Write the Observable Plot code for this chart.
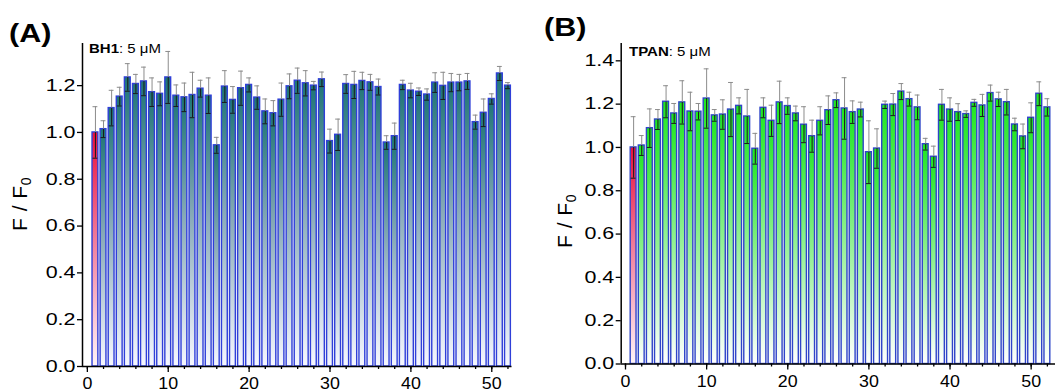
<!DOCTYPE html>
<html>
<head>
<meta charset="utf-8">
<script src="https://cdn.jsdelivr.net/npm/d3@7"></script>
<script src="https://cdn.jsdelivr.net/npm/@observablehq/plot@0.6"></script>
<style>
  body { margin: 0; background: #fff; }
  #wrap { position: relative; width: 1055px; height: 392px; overflow: hidden; font-family: "Liberation Sans", Arial, sans-serif; color: #000; }
  .panel { position: absolute; top: 0; }
  .tag { position: absolute; font-weight: bold; font-size: 25px; line-height: 1; transform: scaleX(1.22); transform-origin: 0 0; }
  .note { position: absolute; font-size: 12.5px; line-height: 1; white-space: nowrap; transform: scaleX(1.2); transform-origin: 0 0; }
  .ylab { position: absolute; font-size: 21px; white-space: nowrap; transform: translate(-50%, -50%) rotate(-90deg); line-height: 1; letter-spacing: 0.5px; }
  .ylab sub { font-size: 14px; vertical-align: -4px; }
</style>
</head>
<body>
<div id="wrap">
  <div class="tag" style="left:9px; top:21px;">(A)</div>
  <div class="tag" style="left:544px; top:15px;">(B)</div>
  <div class="note" style="left:89px; top:43px;"><b>BH1</b>: 5 μM</div>
  <div class="note" style="left:629px; top:46px;"><b>TPAN</b>: 5 μM</div>
  <div class="ylab" style="left:21px; top:204px;">F / F<sub>0</sub></div>
  <div class="ylab" style="left:566px; top:221px;">F / F<sub>0</sub></div>
</div>
<script>
// ---- data ----
const positions = [1,2,3,4,5,6,7,8,9,10,11,12,13,14,15,16,17,18,19,20,21,22,23,24,25,26,
  27,28,29,30,31,32,33,34,35,36,37,38,39,40,41,42,43,44,45,46,47,48,49,50,51,52];

const valuesA = [1.000,1.014,1.104,1.153,1.235,1.207,1.218,1.172,1.165,1.235,1.157,1.150,1.160,
  1.187,1.157,0.945,1.196,1.139,1.189,1.203,1.149,1.090,1.082,1.140,1.197,1.221,1.210,1.200,
  1.227,0.963,0.990,1.207,1.203,1.220,1.214,1.194,0.957,0.984,1.203,1.179,1.174,1.162,1.213,
  1.199,1.213,1.213,1.218,1.044,1.084,1.143,1.252,1.200];
const errorsA = [0.110,0.036,0.076,0.040,0.059,0.041,0.061,0.061,0.051,0.111,0.046,0.061,0.097,
  0.036,0.076,0.034,0.068,0.057,0.073,0.030,0.050,0.053,0.054,0.071,0.053,0.054,0.054,0.018,
  0.031,0.051,0.067,0.040,0.058,0.037,0.034,0.034,0.029,0.056,0.020,0.031,0.016,0.024,0.042,
  0.058,0.039,0.035,0.034,0.030,0.059,0.022,0.030,0.013];

const valuesB = [1.000,1.009,1.089,1.129,1.211,1.157,1.208,1.166,1.165,1.226,1.148,1.152,1.175,
  1.192,1.143,0.994,1.183,1.123,1.208,1.191,1.157,1.105,1.052,1.123,1.172,1.218,1.180,1.163,
  1.175,0.978,0.995,1.197,1.198,1.258,1.223,1.185,1.015,0.957,1.197,1.175,1.163,1.154,1.206,
  1.194,1.251,1.222,1.209,1.106,1.051,1.137,1.248,1.185];
const errorsB = [0.142,0.046,0.089,0.046,0.074,0.046,0.100,0.089,0.038,0.137,0.027,0.068,0.125,
  0.037,0.125,0.071,0.046,0.072,0.098,0.038,0.034,0.083,0.074,0.065,0.066,0.034,0.142,0.052,
  0.034,0.145,0.091,0.017,0.051,0.037,0.032,0.057,0.027,0.049,0.071,0.054,0.039,0.015,0.016,
  0.051,0.037,0.033,0.059,0.029,0.057,0.069,0.055,0.040];

const controlPosition = 1;
const xMajorTicks = [0,10,20,30,40,50];
const xMinorTicks = [0,2,4,6,8,10,12,14,16,18,20,22,24,26,28,30,32,34,36,38,40,42,44,46,48,50,52];
const yTicksA = [0,0.2,0.4,0.6,0.8,1.0,1.2];
const yTicksB = [0,0.2,0.4,0.6,0.8,1.0,1.2,1.4];

// ---- drawing ----
const NS = "http://www.w3.org/2000/svg";
function addDefs(svg, html) {
  const defs = document.createElementNS(NS, "defs");
  defs.innerHTML = html;
  svg.insertBefore(defs, svg.firstChild);
}
function stretchText(svg, selector, s) {
  svg.querySelectorAll(selector).forEach(t => {
    let tx = 0, ty = 0;
    const xa = t.getAttribute("x"), ya = t.getAttribute("y");
    if (xa !== null && xa.trim() !== "" && !isNaN(+xa)) { tx = +xa; t.removeAttribute("x"); }
    if (ya !== null && ya.trim() !== "" && !isNaN(+ya)) { ty = +ya; t.removeAttribute("y"); }
    const tr = t.getAttribute("transform") || "";
    t.setAttribute("transform", `${tr} translate(${tx},${ty}) scale(${s},1)`.trim());
  });
}

function panel(opts) {
  const data = positions.map((n, i) => ({n, v: opts.values[i], e: opts.errors[i]}));
  const ctrl = data.filter(d => d.n === controlPosition);
  const rest = data.filter(d => d.n !== controlPosition);
  const hw = 0.36, cw = 0.3;
  const barOpts = (fill) => ({
    x1: d => d.n - hw, x2: d => d.n + hw, y1: () => 0, y2: "v",
    fill, stroke: opts.barStroke, strokeWidth: 1.4
  });
  const xMin = opts.xDomain[0];
  const svg = Plot.plot({
    width: opts.width, height: 392,
    marginLeft: opts.marginLeft, marginRight: opts.marginRight,
    marginTop: opts.marginTop, marginBottom: opts.marginBottom,
    x: {domain: opts.xDomain},
    y: {domain: opts.yDomain},
    style: {fontFamily: "'Liberation Sans', Arial, sans-serif", fontSize: "16.5px", color: "#000", background: "transparent"},
    marks: [
      Plot.rect(rest, barOpts(`url(#${opts.id}-main)`)),
      Plot.rect(ctrl, barOpts(`url(#${opts.id}-ctrl)`)),
      Plot.ruleX(data, {x: "n", y1: d => d.v - d.e, y2: "v", stroke: "#1a1a1a", strokeWidth: 1}),
      Plot.ruleX(data, {x: "n", y1: "v", y2: d => d.v + d.e, stroke: "#8c8c8c", strokeWidth: 1}),
      Plot.ruleY(data, {y: d => d.v + d.e, x1: d => d.n - cw, x2: d => d.n + cw, stroke: "#8c8c8c", strokeWidth: 1}),
      Plot.ruleY(data, {y: d => d.v - d.e, x1: d => d.n - cw, x2: d => d.n + cw, stroke: "#1a1a1a", strokeWidth: 1}),
      Plot.axisY({ticks: opts.yTicks, tickSize: 5, tickPadding: 2, tickFormat: d3.format(".1f"), label: null, strokeWidth: 1.3}),
      Plot.axisX({ticks: xMinorTicks, tickSize: 3, tickFormat: () => "", label: null, strokeWidth: 1.3}),
      Plot.axisX({ticks: xMajorTicks, tickSize: 6, tickPadding: 5, tickFormat: d3.format("d"), label: null, strokeWidth: 1.3}),
      Plot.ruleX([xMin], {stroke: "#000", strokeWidth: 1.5}),
      Plot.ruleY([0], {stroke: "#000", strokeWidth: 1.5})
    ]
  });
  addDefs(svg, `
    <linearGradient id="${opts.id}-main" x1="0" y1="0" x2="0" y2="1">
      ${opts.mainStops}
    </linearGradient>
    <linearGradient id="${opts.id}-ctrl" x1="0" y1="0" x2="0" y2="1">
      <stop offset="0" stop-color="#e8103c"/>
      <stop offset="0.45" stop-color="#f07a98"/>
      <stop offset="1" stop-color="#fff4f7"/>
    </linearGradient>`);
  stretchText(svg, 'g[aria-label="y-axis tick label"] text', 1.3);
  stretchText(svg, 'g[aria-label="x-axis tick label"] text', 1.08);
  svg.classList.add("panel");
  svg.style.left = opts.left + "px";
  document.getElementById("wrap").appendChild(svg);
}

panel({
  id: "pa", left: 0, width: 530, marginLeft: 82, marginRight: 18.5, marginTop: 43, marginBottom: 26,
  xDomain: [-0.6, 52.5], yDomain: [0, 1.38], yTicks: yTicksA,
  values: valuesA, errors: errorsA, barStroke: "#2f3fd8",
  mainStops: `<stop offset="0" stop-color="#1d7474"/>
              <stop offset="0.45" stop-color="#88aab8"/>
              <stop offset="1" stop-color="#f6f7ff"/>`
});
panel({
  id: "pb", left: 530, width: 525, marginLeft: 90.7, marginRight: 0, marginTop: 43, marginBottom: 28.5,
  xDomain: [-0.53, 53], yDomain: [0, 1.48], yTicks: yTicksB,
  values: valuesB, errors: errorsB, barStroke: "#2f45c8",
  mainStops: `<stop offset="0" stop-color="#1ee61e"/>
              <stop offset="0.5" stop-color="#8ef08e"/>
              <stop offset="1" stop-color="#ffffff"/>`
});
</script>
</body>
</html>
